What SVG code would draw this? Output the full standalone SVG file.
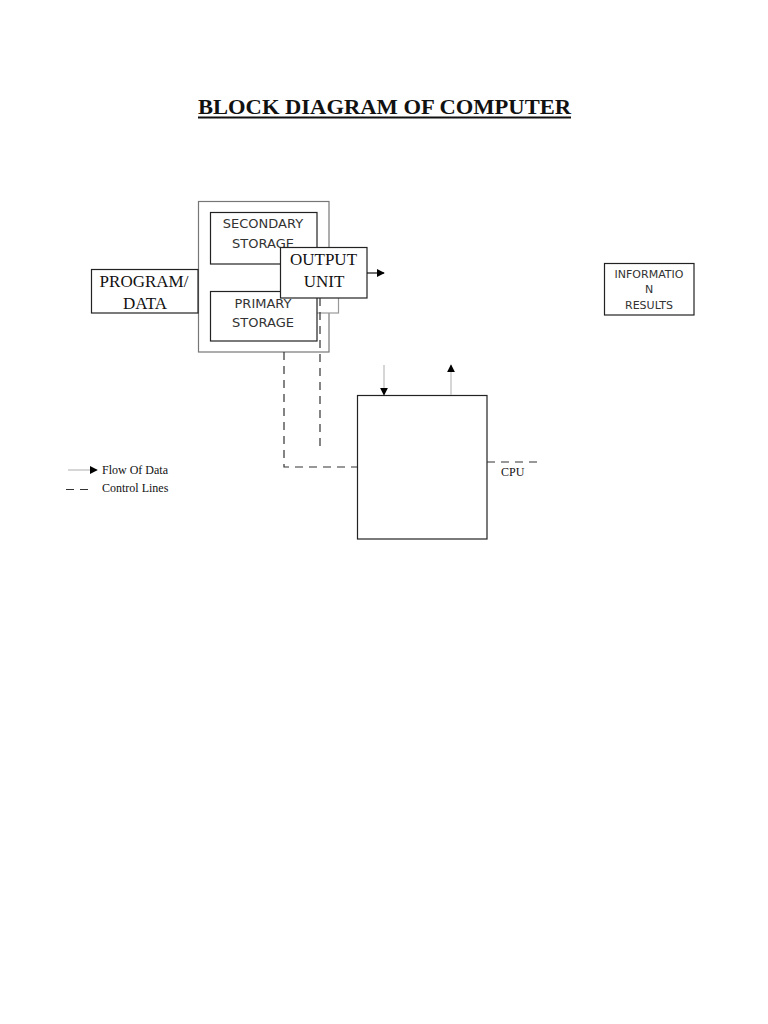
<svg xmlns="http://www.w3.org/2000/svg" width="768" height="1024" viewBox="0 0 768 1024">
<style>
.box{fill:#fff;stroke:#222;stroke-width:1.2}
.gbox{fill:#fff;stroke:#777;stroke-width:1.2}
.serif{font-family:"Liberation Serif","Times New Roman",serif;fill:#111}
.sans{font-family:"DejaVu Sans","Noto Sans",sans-serif;fill:#333}
.dash{fill:none;stroke:#333;stroke-width:1.2;stroke-dasharray:8,6}
.arrow{fill:none;stroke:#bbb;stroke-width:1.2}
</style>
<defs>
<marker id="ah" viewBox="0 0 10 10" refX="9" refY="5" markerWidth="8" markerHeight="8" markerUnits="userSpaceOnUse" orient="auto">
<path d="M0,0 L10,5 L0,10 z" fill="#000"/>
</marker>
</defs>
<rect width="768" height="1024" fill="#fff"/>
<g id="title">
<text class="serif" x="198" y="114" font-size="21" font-weight="bold" textLength="373" lengthAdjust="spacingAndGlyphs">BLOCK DIAGRAM OF COMPUTER</text>
<line x1="198" y1="117.5" x2="571" y2="117.5" stroke="#111" stroke-width="1.8"/>
</g>
<g id="memory">
<rect class="gbox" x="198.5" y="201.5" width="130.5" height="150.5"/>
<rect x="300" y="260" width="38.5" height="53" fill="#fff" stroke="#999" stroke-width="1.2"/>
</g>
<g id="secondary-storage">
<rect class="box" x="210.5" y="212.5" width="106.5" height="51.5"/>
<text class="sans" x="263" y="228" font-size="13" text-anchor="middle">SECONDARY</text>
<text class="sans" x="263" y="248" font-size="13" text-anchor="middle">STORAGE</text>
</g>
<g id="primary-storage">
<rect class="box" x="210.5" y="291.5" width="106.5" height="49.5"/>
<text class="sans" x="263" y="308" font-size="13" text-anchor="middle">PRIMARY</text>
<text class="sans" x="263" y="327" font-size="13" text-anchor="middle">STORAGE</text>
</g>
<g id="program-data">
<rect class="box" x="91.5" y="269.5" width="106.5" height="43.5"/>
<text class="serif" x="144" y="287" font-size="17" text-anchor="middle">PROGRAM/</text>
<text class="serif" x="145" y="309" font-size="17" text-anchor="middle">DATA</text>
</g>
<g id="output-unit">
<rect class="box" x="280.5" y="247.5" width="86.5" height="50.5"/>
<text class="serif" x="323.5" y="265" font-size="17" text-anchor="middle">OUTPUT</text>
<text class="serif" x="324" y="287" font-size="17" text-anchor="middle">UNIT</text>
</g>
<g id="information-results">
<rect class="box" x="604.5" y="263.5" width="89.5" height="51.5"/>
<text class="sans" x="649" y="278" font-size="11" text-anchor="middle">INFORMATIO</text>
<text class="sans" x="649" y="293" font-size="11" text-anchor="middle">N</text>
<text class="sans" x="649" y="309" font-size="11" text-anchor="middle">RESULTS</text>
</g>
<g id="cpu">
<rect class="box" x="357.5" y="395.5" width="129.5" height="143.5"/>
<text class="serif" x="501" y="476" font-size="12">CPU</text>
</g>
<g id="connectors">
<line x1="367" y1="273" x2="384" y2="273" stroke="#111" stroke-width="1.2" marker-end="url(#ah)"/>
<line class="arrow" x1="384" y1="365" x2="384" y2="395" marker-end="url(#ah)"/>
<line class="arrow" x1="451" y1="395" x2="451" y2="365" marker-end="url(#ah)"/>
<path class="dash" d="M320,298 L320,450"/>
<path class="dash" d="M284,352 L284,467 L357,467"/>
<path class="dash" d="M487,462 L540,462 L540,465"/>
</g>
<g id="legend">
<line class="arrow" x1="68" y1="470" x2="97" y2="470" marker-end="url(#ah)"/>
<text class="serif" x="102" y="474" font-size="12">Flow Of Data</text>
<path class="dash" d="M66,489.5 L91,489.5" stroke-dasharray="9,7"/>
<text class="serif" x="102" y="492" font-size="12">Control Lines</text>
</g>
</svg>
